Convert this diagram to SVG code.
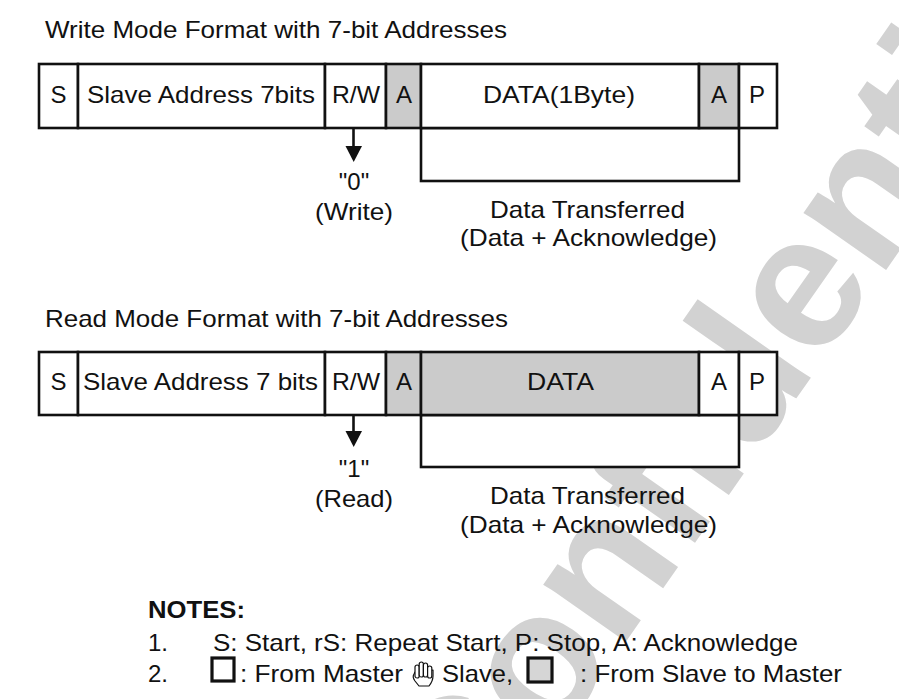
<svg xmlns="http://www.w3.org/2000/svg" width="899" height="699" viewBox="0 0 899 699">
<defs>
<style>
text{font-family:"Liberation Sans",Arial,sans-serif;fill:#111;font-size:24px}
.c{text-anchor:middle}
.box{fill:#fff;stroke:#111;stroke-width:2.6}
.g{fill:#cbcbcb;stroke:#111;stroke-width:2.6}
.ln{fill:none;stroke:#111;stroke-width:2.6}
.wm{font-family:"Liberation Sans",Arial,sans-serif;font-weight:bold;font-size:190px;fill:#d2d2d2}
</style>
</defs>
<rect width="899" height="699" fill="#fff"/>
<text class="wm" transform="translate(473,860) rotate(-55)">Confidential</text>

<text x="45" y="38" textLength="462" lengthAdjust="spacingAndGlyphs">Write Mode Format with 7-bit Addresses</text>
<text x="45" y="327" textLength="463" lengthAdjust="spacingAndGlyphs">Read Mode Format with 7-bit Addresses</text>

<g id="write-frame">
<rect class="box" x="421" y="128" width="318" height="53"/>
<rect class="box" x="39" y="64" width="39" height="64"/>
<rect class="box" x="78" y="64" width="247" height="64"/>
<rect class="box" x="325" y="64" width="61" height="64"/>
<rect class="g" x="386" y="64" width="35" height="64"/>
<rect class="box" x="421" y="64" width="278" height="64"/>
<rect class="g" x="699" y="64" width="40" height="64"/>
<rect class="box" x="739" y="64" width="38" height="64"/>
<text class="c" x="58.5" y="103">S</text>
<text x="87" y="103" textLength="228" lengthAdjust="spacingAndGlyphs">Slave Address 7bits</text>
<text x="332" y="103" textLength="48" lengthAdjust="spacingAndGlyphs">R/W</text>
<text class="c" x="404" y="103">A</text>
<text x="483" y="103" textLength="152" lengthAdjust="spacingAndGlyphs">DATA(1Byte)</text>
<text class="c" x="719" y="103">A</text>
<text class="c" x="757" y="103">P</text>
</g>

<g id="read-frame">
<rect class="box" x="421" y="415" width="318" height="52"/>
<rect class="box" x="39" y="352" width="39" height="63"/>
<rect class="box" x="78" y="352" width="247" height="63"/>
<rect class="box" x="325" y="352" width="61" height="63"/>
<rect class="g" x="386" y="352" width="35" height="63"/>
<rect class="g" x="421" y="352" width="278" height="63"/>
<rect class="box" x="699" y="352" width="40" height="63"/>
<rect class="box" x="739" y="352" width="38" height="63"/>
<text class="c" x="58.5" y="390">S</text>
<text x="83" y="390" textLength="235" lengthAdjust="spacingAndGlyphs">Slave Address 7 bits</text>
<text x="332" y="390" textLength="48" lengthAdjust="spacingAndGlyphs">R/W</text>
<text class="c" x="404" y="390">A</text>
<text x="527" y="390" textLength="67" lengthAdjust="spacingAndGlyphs">DATA</text>
<text class="c" x="719" y="390">A</text>
<text class="c" x="757" y="390">P</text>
</g>

<g id="connectors">
<line class="ln" x1="353.5" y1="128" x2="353.5" y2="150"/>
<polygon points="345.5,146 362,146 353.7,162" fill="#111"/>
<line class="ln" x1="353.5" y1="415" x2="353.5" y2="434"/>
<polygon points="345.5,431 362,431 353.7,447" fill="#111"/>
</g>

<g id="write-labels">
<text class="c" x="354" y="190">"0"</text>
<text x="315" y="220" textLength="78" lengthAdjust="spacingAndGlyphs">(Write)</text>
<text x="490" y="218" textLength="195" lengthAdjust="spacingAndGlyphs">Data Transferred</text>
<text x="460" y="246" textLength="257" lengthAdjust="spacingAndGlyphs">(Data + Acknowledge)</text>
</g>
<g id="read-labels">
<text class="c" x="354" y="477">"1"</text>
<text x="315" y="507" textLength="78" lengthAdjust="spacingAndGlyphs">(Read)</text>
<text x="490" y="504" textLength="195" lengthAdjust="spacingAndGlyphs">Data Transferred</text>
<text x="460" y="533" textLength="257" lengthAdjust="spacingAndGlyphs">(Data + Acknowledge)</text>
</g>

<g id="notes">
<text x="148" y="618" font-weight="bold" textLength="97" lengthAdjust="spacingAndGlyphs">NOTES:</text>
<text x="148" y="651">1.</text>
<text x="213" y="651" textLength="585" lengthAdjust="spacingAndGlyphs">S: Start, rS: Repeat Start, P: Stop, A: Acknowledge</text>
<text x="148" y="682">2.</text>
<rect x="212" y="658" width="22" height="23" fill="#fff" stroke="#111" stroke-width="3.2"/>
<text x="240" y="682" textLength="163" lengthAdjust="spacingAndGlyphs">: From Master</text>
<text x="442" y="682" textLength="71" lengthAdjust="spacingAndGlyphs">Slave,</text>
<rect x="528" y="658" width="24" height="24" fill="#d6d6d6" stroke="#111" stroke-width="3.2"/>
<text x="580" y="682" textLength="262" lengthAdjust="spacingAndGlyphs">: From Slave to Master</text>
</g>

<g id="cursor" transform="translate(411,661)" fill="#fff" stroke="#111" stroke-width="1.2" stroke-linejoin="round">
<path d="M3,13 Q1,16 4,20 L8,25 L18,25 Q22,20 22,15 L22,9 L4,11 Z"/>
<rect x="4" y="4" width="4.2" height="13" rx="2.1"/>
<rect x="8.2" y="1" width="4.2" height="15" rx="2.1"/>
<rect x="12.4" y="2" width="4.2" height="14" rx="2.1"/>
<rect x="16.6" y="5" width="4.2" height="12" rx="2.1"/>
</g>
</svg>
